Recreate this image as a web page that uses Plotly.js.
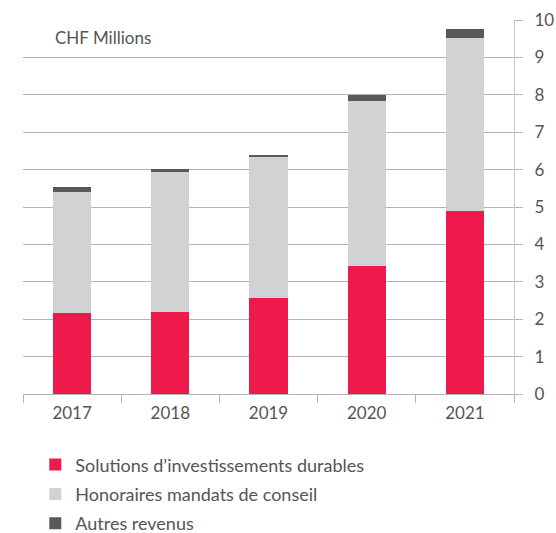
<!DOCTYPE html>
<html>
<head>
<meta charset="utf-8">
<script src="https://cdn.plot.ly/plotly-3.0.1.min.js"></script>
<style>
  html, body { margin: 0; padding: 0; background: #fff; }
  #chart { width: 556px; height: 533px; }
</style>
</head>
<body>
<div id="chart"></div>
<script>
var years = ['2017', '2018', '2019', '2020', '2021'];
var solutions = [2.17, 2.20, 2.57, 3.43, 4.90];
var honoraires = [3.23, 3.74, 3.77, 4.41, 4.62];
var autres = [0.14, 0.07, 0.05, 0.15, 0.24];

var names = ['Solutions d\u2019investissements durables', 'Honoraires mandats de conseil', 'Autres revenus'];
var colors = ['#ee1a4b', '#d1d2d4', '#58595b'];

var trace1 = {
  x: years,
  y: solutions,
  name: names[0],
  legendgroup: 'a',
  type: 'bar',
  marker: {color: colors[0]},
  hoverinfo: 'skip'
};

var trace2 = {
  x: years,
  y: honoraires,
  name: names[1],
  legendgroup: 'b',
  type: 'bar',
  marker: {color: colors[1]},
  hoverinfo: 'skip'
};

var trace3 = {
  x: years,
  y: autres,
  name: names[2],
  legendgroup: 'c',
  type: 'bar',
  marker: {color: colors[2]},
  hoverinfo: 'skip'
};

var layout = {
  width: 556,
  height: 533,
  margin: {l: 23, r: 42, t: 20, b: 139, autoexpand: false},
  barmode: 'stack',
  bargap: 0.61,
  paper_bgcolor: '#fff',
  plot_bgcolor: '#fff',
  font: {family: 'Lato, sans-serif', size: 17, color: '#555'},
  showlegend: true,
  legend: {
    orientation: 'v',
    traceorder: 'grouped',
    tracegroupgap: 3,
    x: 0.025,
    xanchor: 'left',
    y: -0.14,
    yanchor: 'top',
    borderwidth: 0,
    font: {size: 18, color: '#555'}
  },
  xaxis: {
    type: 'category',
    showgrid: false,
    showline: true,
    linecolor: '#b4b4b4',
    ticks: 'outside',
    tickson: 'boundaries',
    ticklen: 8,
    tickcolor: '#b4b4b4',
    ticklabelstandoff: 4,
    tickfont: {size: 17, color: '#555'}
  },
  yaxis: {
    side: 'right',
    range: [0, 10],
    dtick: 1,
    showgrid: true,
    gridcolor: '#b4b4b4',
    zeroline: false,
    showline: true,
    linecolor: '#c8c8c8',
    ticks: 'outside',
    ticklen: 8,
    tickcolor: '#b4b4b4',
    ticklabelstandoff: 8,
    tickfont: {size: 17, color: '#555'}
  },
  annotations: [{
    text: 'CHF Millions',
    xref: 'paper',
    yref: 'paper',
    x: 0.061,
    y: 0.952,
    xanchor: 'left',
    yanchor: 'middle',
    showarrow: false,
    font: {size: 17, color: '#555'}
  }]
};

Plotly.newPlot('chart', [trace1, trace2, trace3], layout, {displayModeBar: false, staticPlot: true});
</script>
</body>
</html>
